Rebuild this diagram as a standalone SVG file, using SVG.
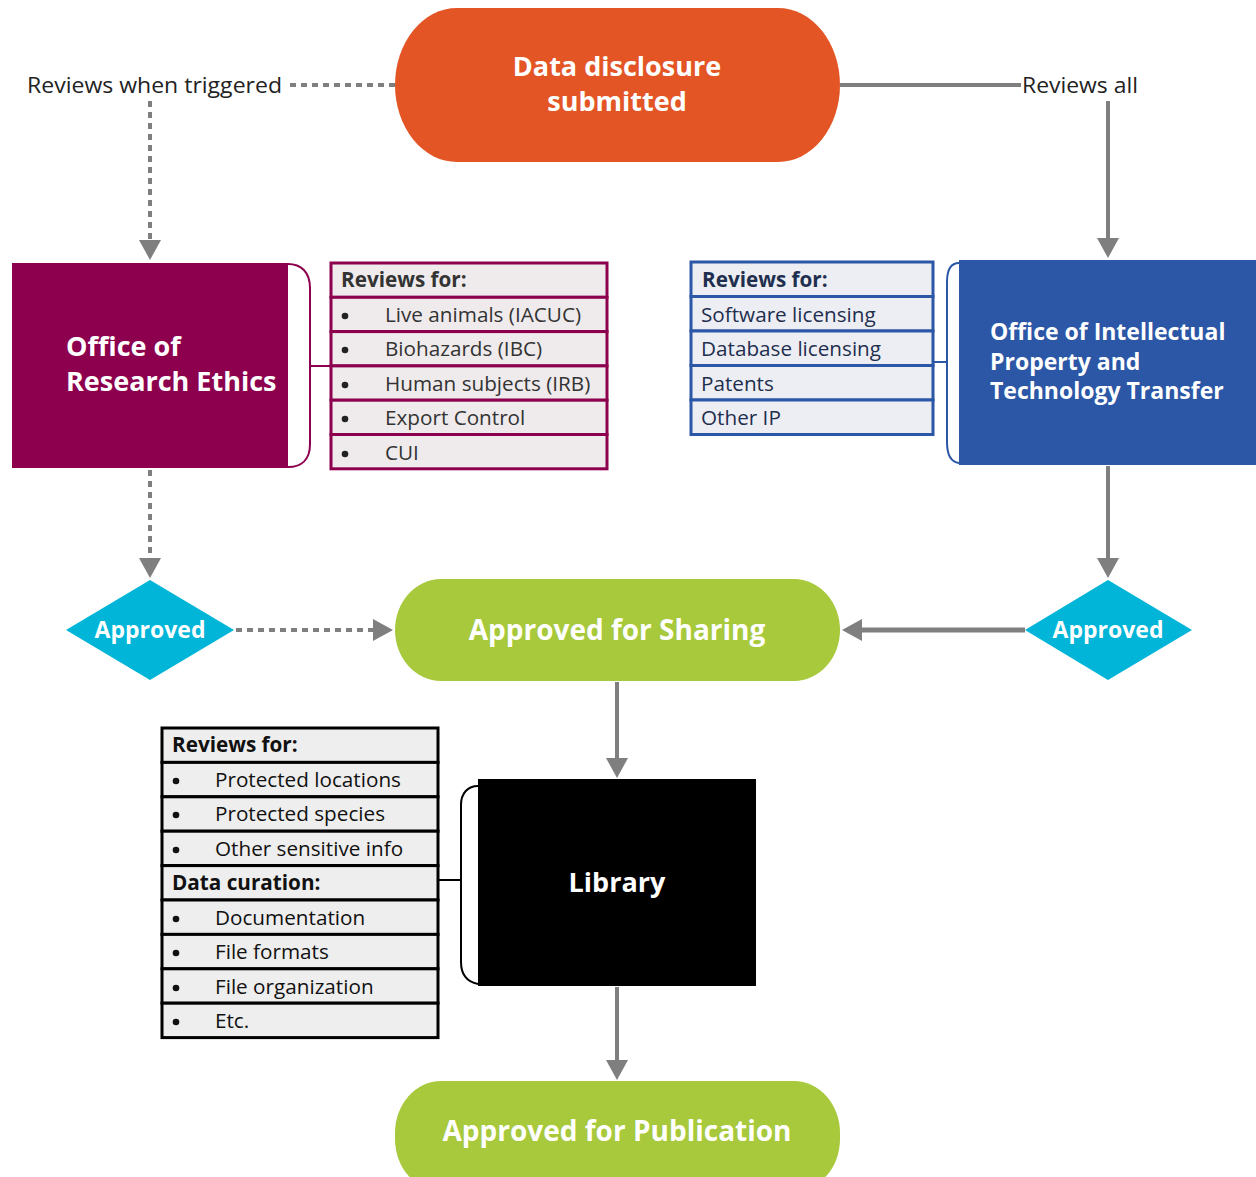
<svg xmlns="http://www.w3.org/2000/svg" width="1256" height="1177" viewBox="0 0 1256 1177">
<style>
.t{font-family:"Open Sans","Noto Sans","Liberation Sans",sans-serif}
.w{fill:#fff;font-weight:700}
.lbl{font-size:22px;fill:#222}
.row{font-size:20.7px}
.hd{font-weight:700}
.c{stroke:#7F7F7F;stroke-width:4;fill:none}
.d{stroke-dasharray:6 5}
.oreRow{fill:#EFEBED;stroke:#8C004E;stroke-width:3}
.ipRow{fill:#EDEEF3;stroke:#2B57A6;stroke-width:3}
.libRow{fill:#EEEEEE;stroke:#000;stroke-width:3}
</style>
<defs>
<marker id="ah" markerUnits="userSpaceOnUse" markerWidth="20" markerHeight="22" refX="0" refY="11" orient="auto" viewBox="0 0 20 22">
<path d="M0,0 L20,11 L0,22 z" fill="#7F7F7F"/>
</marker>
</defs>
<rect width="1256" height="1177" fill="#fff"/>

<g id="connectors">
<path class="c d" d="M395,85 H288"/>
<path class="c d" d="M150,101 V240" marker-end="url(#ah)"/>
<path class="c" d="M840,85 H1021"/>
<path class="c" d="M1108,101 V238" marker-end="url(#ah)"/>
<path class="c d" d="M150,470 V558" marker-end="url(#ah)"/>
<path class="c" d="M1108,466 V558" marker-end="url(#ah)"/>
<path class="c d" d="M236,630 H373" marker-end="url(#ah)"/>
<path class="c" d="M1025,630 H862" style="stroke-width:5" marker-end="url(#ah)"/>
<path class="c" d="M617,682 V758" marker-end="url(#ah)"/>
<path class="c" d="M617,987 V1060" marker-end="url(#ah)"/>
<text class="t lbl" x="27" y="93" textLength="255" lengthAdjust="spacingAndGlyphs">Reviews when triggered</text>
<text class="t lbl" x="1022" y="93" textLength="116" lengthAdjust="spacingAndGlyphs">Reviews all</text>
</g>

<g id="node-submitted">
<rect x="395" y="8" width="445" height="154" rx="62" ry="77" fill="#E35525"/>
<text class="t w" x="617" y="76" font-size="27" text-anchor="middle">Data disclosure</text>
<text class="t w" x="617" y="111" font-size="27" text-anchor="middle">submitted</text>
</g>

<g id="node-ore">
<rect x="12" y="263" width="276" height="205" fill="#8C004E"/>
<text class="t w" x="66" y="356" font-size="27">Office of</text>
<text class="t w" x="66" y="391" font-size="27">Research Ethics</text>
<path d="M288,264 C301,264 310,272 310,288 V444 C310,460 301,467 288,467" fill="none" stroke="#8C004E" stroke-width="2"/>
<path d="M310,366 H331" stroke="#8C004E" stroke-width="2"/>
</g>

<g id="table-ore" class="t row" fill="#333">
<rect class="oreRow" x="331" y="263" width="276" height="34.3"/>
<rect class="oreRow" x="331" y="297.3" width="276" height="34.3"/>
<rect class="oreRow" x="331" y="331.6" width="276" height="34.3"/>
<rect class="oreRow" x="331" y="365.9" width="276" height="34.3"/>
<rect class="oreRow" x="331" y="400.2" width="276" height="34.3"/>
<rect class="oreRow" x="331" y="434.5" width="276" height="34.3"/>
<text class="hd" x="341" y="287">Reviews for:</text>
<g fill="#222"><circle cx="345" cy="316" r="3.3"/><circle cx="345" cy="350" r="3.3"/><circle cx="345" cy="385" r="3.3"/><circle cx="345" cy="419" r="3.3"/><circle cx="345" cy="454" r="3.3"/></g>
<text x="385" y="322">Live animals (IACUC)</text>
<text x="385" y="356">Biohazards (IBC)</text>
<text x="385" y="391">Human subjects (IRB)</text>
<text x="385" y="425">Export Control</text>
<text x="385" y="460">CUI</text>
</g>

<g id="table-oiptt" class="t row" fill="#1F2F4F">
<rect class="ipRow" x="691" y="262" width="242" height="34.5"/>
<rect class="ipRow" x="691" y="296.5" width="242" height="34.5"/>
<rect class="ipRow" x="691" y="331" width="242" height="34.5"/>
<rect class="ipRow" x="691" y="365.5" width="242" height="34.5"/>
<rect class="ipRow" x="691" y="400" width="242" height="34.5"/>
<text class="hd" x="702" y="287">Reviews for:</text>
<text x="701" y="322">Software licensing</text>
<text x="701" y="356">Database licensing</text>
<text x="701" y="391">Patents</text>
<text x="701" y="425">Other IP</text>
</g>

<g id="node-oiptt">
<rect x="959" y="260" width="297" height="205" fill="#2B57A6"/>
<text class="t w" x="990" y="340" font-size="23">Office of Intellectual</text>
<text class="t w" x="990" y="370" font-size="23">Property and</text>
<text class="t w" x="990" y="399" font-size="23">Technology Transfer</text>
<path d="M959,263 C951,263 947,270 947,282 V442 C947,455 951,462 959,463" fill="none" stroke="#2B57A6" stroke-width="2"/>
<path d="M933,362 H947" stroke="#2B57A6" stroke-width="2"/>
</g>

<g id="node-approved-left">
<polygon points="150,580 234,630 150,680 66,630" fill="#00B5D8"/>
<text class="t w" x="150" y="638" font-size="23" text-anchor="middle">Approved</text>
</g>

<g id="node-approved-right">
<polygon points="1108,580 1192,630 1108,680 1025,630" fill="#00B5D8"/>
<text class="t w" x="1108" y="638" font-size="23" text-anchor="middle">Approved</text>
</g>

<g id="node-sharing">
<rect x="395" y="579" width="445" height="102" rx="46" ry="51" fill="#A7C93B"/>
<text class="t w" x="617" y="640" font-size="28" text-anchor="middle">Approved for Sharing</text>
</g>

<g id="table-library" class="t row" fill="#111">
<rect class="libRow" x="162" y="728" width="276" height="34.4"/>
<rect class="libRow" x="162" y="762.4" width="276" height="34.4"/>
<rect class="libRow" x="162" y="796.8" width="276" height="34.4"/>
<rect class="libRow" x="162" y="831.2" width="276" height="34.4"/>
<rect class="libRow" x="162" y="865.6" width="276" height="34.4"/>
<rect class="libRow" x="162" y="900" width="276" height="34.4"/>
<rect class="libRow" x="162" y="934.4" width="276" height="34.4"/>
<rect class="libRow" x="162" y="968.8" width="276" height="34.4"/>
<rect class="libRow" x="162" y="1003.2" width="276" height="34.4"/>
<text class="hd" x="172" y="752">Reviews for:</text>
<g fill="#111"><circle cx="176" cy="781" r="3.3"/><circle cx="176" cy="815" r="3.3"/><circle cx="176" cy="850" r="3.3"/><circle cx="176" cy="919" r="3.3"/><circle cx="176" cy="953" r="3.3"/><circle cx="176" cy="988" r="3.3"/><circle cx="176" cy="1022" r="3.3"/></g>
<text x="215" y="787">Protected locations</text>
<text x="215" y="821">Protected species</text>
<text x="215" y="856">Other sensitive info</text>
<text class="hd" x="172" y="890">Data curation:</text>
<text x="215" y="925">Documentation</text>
<text x="215" y="959">File formats</text>
<text x="215" y="994">File organization</text>
<text x="215" y="1028">Etc.</text>
</g>

<g id="node-library">
<rect x="478" y="779" width="278" height="207" fill="#000"/>
<text class="t w" x="617" y="892" font-size="27" text-anchor="middle">Library</text>
<path d="M478,786 C468,786 461,793 461,805 V962 C461,975 468,982 478,984" fill="none" stroke="#000" stroke-width="2"/>
<path d="M438,880 H461" stroke="#000" stroke-width="2"/>
</g>

<g id="node-publication">
<rect x="395" y="1081" width="445" height="110" rx="46" ry="52" fill="#A7C93B"/>
<text class="t w" x="617" y="1141" font-size="28" text-anchor="middle">Approved for Publication</text>
</g>
</svg>
